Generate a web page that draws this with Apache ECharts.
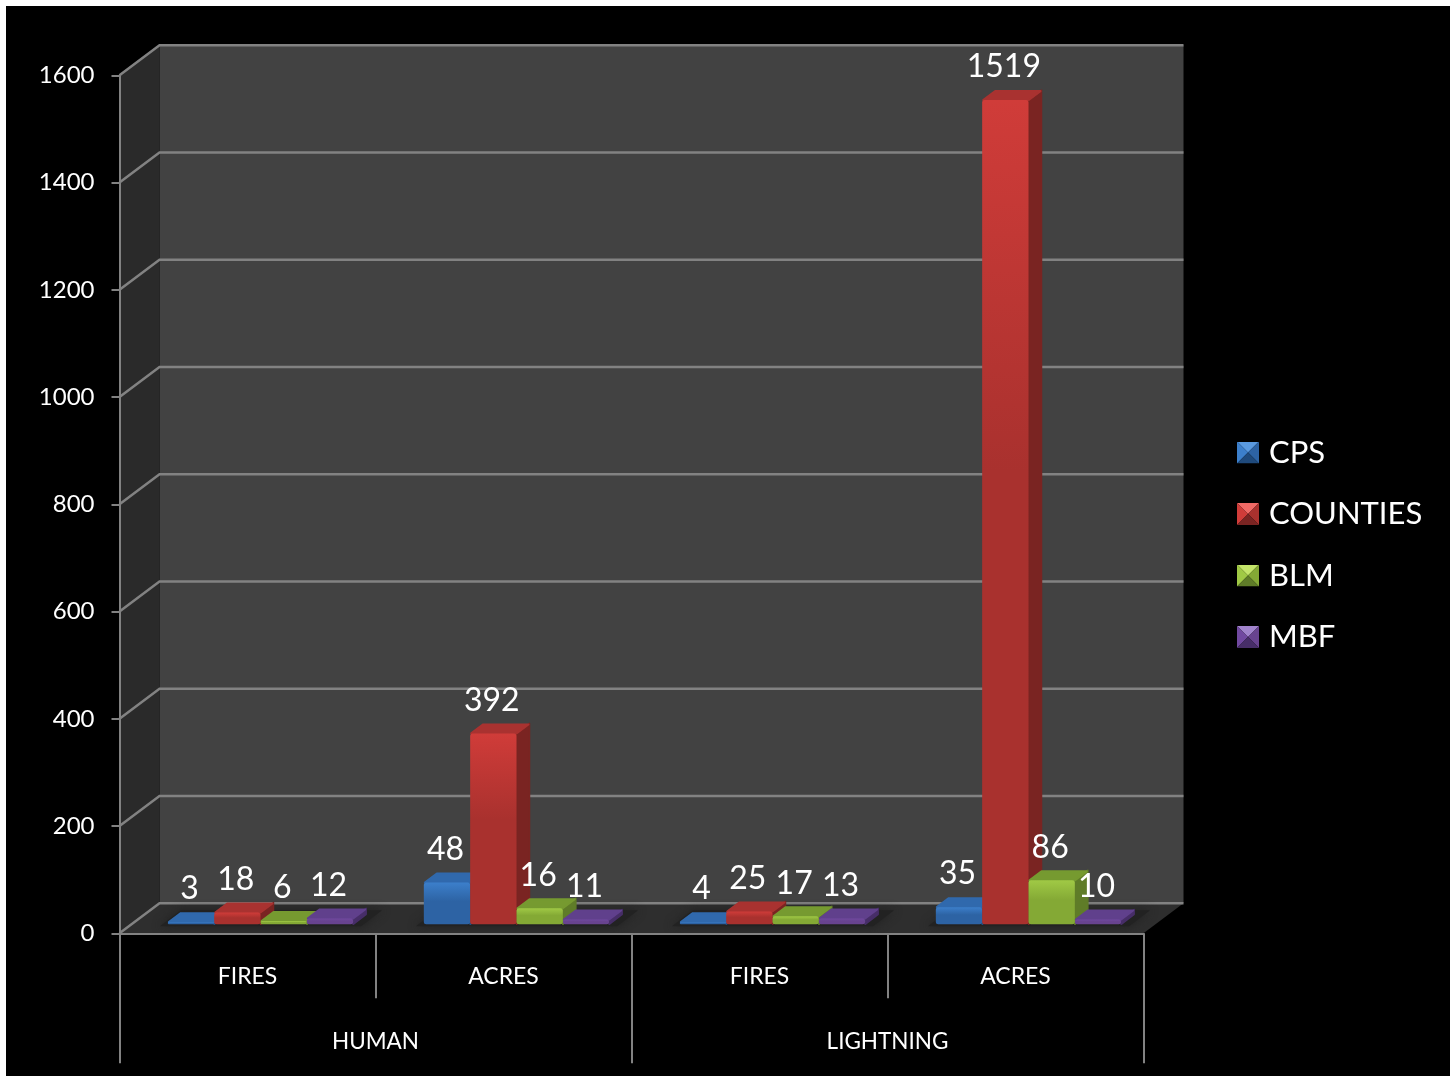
<!DOCTYPE html>
<html>
<head>
<meta charset="utf-8">
<title>Fires and acres by cause</title>
<script src="https://cdn.jsdelivr.net/npm/echarts@6/dist/echarts.min.js"></script>
<style>
html,body{margin:0;padding:0;background:#fff;width:1456px;height:1076px;overflow:hidden}
#panel{position:absolute;left:6px;top:6px;width:1444px;height:1070px;background:#000}
#chart{position:absolute;left:0;top:0;width:1456px;height:1076px}
</style>
</head>
<body>
<div id="panel"></div>
<div id="chart"></div>
<script>
var categories = ['FIRES', 'ACRES', 'FIRES', 'ACRES'];
var groups = ['HUMAN', 'LIGHTNING'];
var yTicks = [0, 200, 400, 600, 800, 1000, 1200, 1400, 1600];

// Bar heights as read against the axis; in the source picture the printed
// labels do not always agree with the drawn heights, so both are kept.
var cpsHeights = [4, 78, 4, 32];
var countiesHeights = [22, 356, 24, 1537];
var blmHeights = [6, 30, 15, 82];
var mbfHeights = [11, 9, 11, 9];

var cpsLabels = [3, 48, 4, 35];
var countiesLabels = [18, 392, 25, 1519];
var blmLabels = [6, 16, 17, 86];
var mbfLabels = [12, 11, 13, 10];

var FONT = 'Lato, Carlito, "Open Sans", sans-serif';
var WALL_DX = 40, WALL_DY = -30;      // depth of the chart box
var BAR_DX = 13, BAR_DY = -10;        // depth of a bar
var FRONT_DX = 13, FRONT_DY = -9;     // offset of bar fronts from the front edge
var BAR_BAND = 0.181;                 // bar width as a share of the category band
var GRID_LINE = '#828282';

var palette = {
  CPS:      {hi:'#3c7fcb', lo:'#2d63a4', top:'#3069ad', side:'#234e82', lit:'#5a9ae0', dark:'#1f4a7c'},
  COUNTIES: {hi:'#d03c39', lo:'#a9312e', top:'#a93230', side:'#7a2422', lit:'#f06a66', dark:'#7a2422'},
  BLM:      {hi:'#a0c945', lo:'#84a935', top:'#769a30', side:'#5f7c28', lit:'#c4e56a', dark:'#5f7c28'},
  MBF:      {hi:'#7149a0', lo:'#68438f', top:'#60408c', side:'#472e68', lit:'#a184cc', dark:'#472e68'}
};

function legendIcon(p) {
  var svg = '<svg xmlns="http://www.w3.org/2000/svg" width="22" height="22" viewBox="0 0 22 22">' +
    '<polygon points="0,0 22,0 11,11" fill="' + p.lit + '"/>' +
    '<polygon points="0,0 0,22 11,11" fill="' + p.hi + '"/>' +
    '<polygon points="22,0 22,22 11,11" fill="' + p.lo + '"/>' +
    '<polygon points="0,22 22,22 11,11" fill="' + p.dark + '"/></svg>';
  return 'image://data:image/svg+xml;charset=utf-8,' + encodeURIComponent(svg);
}

function renderBar(seriesIndex) {
  return function (params, api) {
    var name = params.seriesName;
    var p = palette[name];
    var base = api.coord([api.value(0), 0]);
    var tip = api.coord([api.value(0), api.value(1)]);
    var band = api.size([1, 0])[0];
    var w = band * BAR_BAND;
    var x = base[0] + FRONT_DX + (seriesIndex - 2) * w;
    var yb = base[1] + FRONT_DY;
    var yt = tip[1] + FRONT_DY;
    var vGrad = {type:'linear', x:0, y:0, x2:0, y2:1, colorStops:[
      {offset:0, color:p.hi}, {offset:0.45, color:p.lo}, {offset:1, color:p.lo}]};
    return {
      type: 'group',
      children: [
        {type:'polygon', shape:{points:[[x+w,yt],[x+w+BAR_DX,yt+BAR_DY],[x+w+BAR_DX,yb+BAR_DY],[x+w,yb]]},
          style:{fill:p.side, stroke:p.side, lineWidth:1.5, lineJoin:'round'}},
        {type:'polygon', shape:{points:[[x+1,yt],[x+w,yt],[x+w+BAR_DX-1,yt+BAR_DY+1],[x+BAR_DX,yt+BAR_DY+1]]},
          style:{fill:p.top, stroke:p.top, lineWidth:2, lineJoin:'round'}},
        {type:'rect', shape:{x:x, y:yt, width:w, height:yb-yt, r:2.5}, style:{fill:vGrad}},
        {type:'text', z2:100, style:{
          text:String(api.value(2)), x:x + w/2 - 1.5, y:yt + BAR_DY - 23,
          fill:'#ffffff', font:'32px ' + FONT, textAlign:'center', textVerticalAlign:'middle'}}
      ]
    };
  };
}

function renderBox(params, api) {
  var g = params.coordSys;
  var l = g.x, r = g.x + g.width;
  var y0 = api.coord([0, 0])[1];
  var yTop = api.coord([0, yTicks[yTicks.length - 1]])[1];
  var y = api.coord([0, api.value(0)])[1];
  var children = [];
  if (params.dataIndex === 0) {
    children.push({type:'polygon', shape:{points:[[l+WALL_DX,yTop+WALL_DY],[r+WALL_DX,yTop+WALL_DY],[r+WALL_DX,y0+WALL_DY],[l+WALL_DX,y0+WALL_DY]]},
      style:{fill:'#424242'}});
    children.push({type:'polygon', shape:{points:[[l,yTop],[l+WALL_DX,yTop+WALL_DY],[l+WALL_DX,y0+WALL_DY],[l,y0]]},
      style:{fill:'#2a2a2a'}});
    children.push({type:'polygon', shape:{points:[[l,y0],[l+WALL_DX,y0+WALL_DY],[r+WALL_DX,y0+WALL_DY],[r,y0]]},
      style:{fill:'#2e2e2e'}});
  }
  children.push({type:'polyline', shape:{points:[[l,y],[l+WALL_DX,y+WALL_DY],[r+WALL_DX,y+WALL_DY]]},
    style:{stroke:GRID_LINE, lineWidth:2.5, fill:'none'}});
  return {type:'group', children:children};
}

function renderShadow(params, api) {
  var base = api.coord([api.value(0), 0]);
  var band = api.size([1, 0])[0];
  var half = band * BAR_BAND * 2 + 8;
  var cx = base[0] + FRONT_DX, yb = base[1] + FRONT_DY + 2;
  return {type:'polygon', shape:{points:[[cx-half,yb],[cx+half,yb],[cx+half+BAR_DX+8,yb-16],[cx-half+BAR_DX+8,yb-16]]},
    style:{fill:'#222222', shadowColor:'#222222', shadowBlur:10}};
}

function zipSeries(heights, labels) {
  return heights.map(function (h, i) { return [i, h, labels[i]]; });
}

function barSeries(name, index, heights, labels) {
  return {
    name: name, type: 'custom', z: 3, clip: false,
    coordinateSystem: 'cartesian2d', xAxisIndex: 0, yAxisIndex: 0,
    itemStyle: {color: palette[name].hi},
    encode: {x: 0, y: 1},
    data: zipSeries(heights, labels),
    renderItem: renderBar(index),
    animation: false
  };
}

var chart = echarts.init(document.getElementById('chart'), null, {renderer:'canvas'});
chart.setOption({
  animation: false,
  backgroundColor: 'transparent',
  textStyle: {fontFamily: FONT},
  grid: {left: 119.5, right: 312.5, top: 75.3, bottom: 142.7, containLabel: false},
  legend: {
    orient: 'vertical', left: 1237, top: 437, itemWidth: 22, itemHeight: 22, itemGap: 30.5, padding: 0,
    selectedMode: false,
    textStyle: {color: '#ffffff', fontSize: 31, fontFamily: FONT, padding:[0,0,0,5]},
    data: [
      {name:'CPS', icon: legendIcon(palette.CPS)},
      {name:'COUNTIES', icon: legendIcon(palette.COUNTIES)},
      {name:'BLM', icon: legendIcon(palette.BLM)},
      {name:'MBF', icon: legendIcon(palette.MBF)}
    ]
  },
  xAxis: [
    {type:'category', data:categories, position:'bottom', z:5,
      axisLine:{show:true, lineStyle:{color:GRID_LINE, width:2}},
      axisTick:{show:true, length:65, lineStyle:{color:GRID_LINE, width:2}},
      axisLabel:{interval:0, color:'#ffffff', fontSize:23, margin:32, fontFamily:FONT}},
    {type:'category', data:groups, position:'bottom', z:5,
      axisLine:{show:false},
      axisTick:{show:true, length:130, lineStyle:{color:GRID_LINE, width:2}},
      axisLabel:{interval:0, color:'#ffffff', fontSize:22.5, margin:97, fontFamily:FONT}}
  ],
  yAxis: {
    type:'value', min:0, max:1600, interval:200, z:5,
    axisLine:{show:true, lineStyle:{color:GRID_LINE, width:2}},
    axisTick:{show:true, length:8, lineStyle:{color:GRID_LINE, width:2}},
    axisLabel:{color:'#ffffff', fontSize:24, margin:25, fontFamily:FONT, padding:[6,0,0,0],
      formatter:function (v) { return String(v); }},
    splitLine:{show:false}
  },
  series: [
    {type:'custom', name:'box', z:1, clip:false, silent:true, coordinateSystem:'cartesian2d',
      xAxisIndex:0, yAxisIndex:0, encode:{y:0}, data:yTicks.map(function(v){return [v];}), renderItem:renderBox},
    {type:'custom', name:'floorShade', z:2, clip:false, silent:true, coordinateSystem:'cartesian2d',
      xAxisIndex:0, yAxisIndex:0, encode:{x:0}, data:categories.map(function(c,i){return [i];}), renderItem:renderShadow},
    barSeries('CPS', 0, cpsHeights, cpsLabels),
    barSeries('COUNTIES', 1, countiesHeights, countiesLabels),
    barSeries('BLM', 2, blmHeights, blmLabels),
    barSeries('MBF', 3, mbfHeights, mbfLabels)
  ]
});
</script>
</body>
</html>
